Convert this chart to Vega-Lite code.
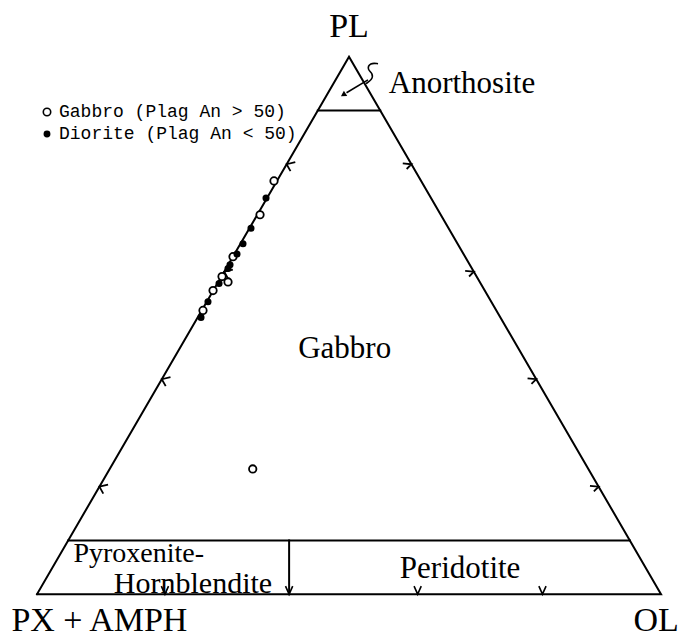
{
  "$schema": "https://vega.github.io/schema/vega-lite/v6.json",
  "width": 679,
  "height": 639,
  "autosize": {"type": "fit", "contains": "padding"},
  "padding": 0,
  "background": "white",
  "config": {"view": {"stroke": null}},
  "datasets": {
    "frame": [
      {"seg": "outline", "i": 0, "x": 0, "y": 0},
      {"seg": "outline", "i": 1, "x": 50, "y": 100},
      {"seg": "outline", "i": 2, "x": 100, "y": 0},
      {"seg": "outline", "i": 3, "x": 0, "y": 0},
      {"seg": "anorthosite", "i": 0, "x": 45, "y": 90},
      {"seg": "anorthosite", "i": 1, "x": 55, "y": 90},
      {"seg": "ultramafic", "i": 0, "x": 5, "y": 10},
      {"seg": "ultramafic", "i": 1, "x": 95, "y": 10},
      {"seg": "divider", "i": 0, "x": 40.4, "y": 10},
      {"seg": "divider", "i": 1, "x": 40.4, "y": 0}
    ],
    "pointer": [
      {"seg": "squiggle", "i": 0, "x": 54.65, "y": 98.7},
      {"seg": "squiggle", "i": 1, "x": 53.37, "y": 98.9},
      {"seg": "squiggle", "i": 2, "x": 52.88, "y": 97.6},
      {"seg": "squiggle", "i": 3, "x": 53.85, "y": 96.9},
      {"seg": "squiggle", "i": 4, "x": 53.69, "y": 95.7},
      {"seg": "squiggle", "i": 5, "x": 52.72, "y": 95.0},
      {"seg": "shaft", "i": 0, "x": 53.04, "y": 95.7},
      {"seg": "shaft", "i": 1, "x": 49.6, "y": 93.3}
    ],
    "arrowTip": [{"x": 49.2, "y": 93.0}],
    "leftTicks": [
      {"x": 10, "y": 20}, {"x": 20, "y": 40}, {"x": 30, "y": 60}, {"x": 40, "y": 80}
    ],
    "rightTicks": [
      {"x": 90, "y": 20}, {"x": 80, "y": 40}, {"x": 70, "y": 60}, {"x": 60, "y": 80}
    ],
    "baseTicks": [
      {"x": 20.5, "y": 0}, {"x": 40.4, "y": 0}, {"x": 61, "y": 0}, {"x": 81, "y": 0}
    ],
    "cornerLabels": [
      {"label": "PL", "x": 50, "y": 103.6},
      {"label": "PX  +  AMPH", "x": 10.0, "y": -6.9},
      {"label": "OL", "x": 99.2, "y": -6.9}
    ],
    "fieldLabels": [
      {"label": "Anorthosite", "x": 68.1, "y": 93.3},
      {"label": "Gabbro", "x": 49.3, "y": 44.0},
      {"label": "Peridotite", "x": 67.8, "y": 3.1}
    ],
    "upperBoxLabel": [
      {"label": "Pyroxenite-", "x": 16.3, "y": 6.0}
    ],
    "lowerBoxLabel": [
      {"label": "Hornblendite", "x": 25.0, "y": 0.15}
    ],
    "samples": [
      {"rock": "Gabbro (Plag An > 50)", "x": 37.98, "y": 76.9},
      {"rock": "Gabbro (Plag An > 50)", "x": 35.74, "y": 70.6},
      {"rock": "Gabbro (Plag An > 50)", "x": 31.41, "y": 62.8},
      {"rock": "Gabbro (Plag An > 50)", "x": 29.65, "y": 59.1},
      {"rock": "Gabbro (Plag An > 50)", "x": 30.61, "y": 58.1},
      {"rock": "Gabbro (Plag An > 50)", "x": 28.21, "y": 56.5},
      {"rock": "Gabbro (Plag An > 50)", "x": 26.6, "y": 52.8},
      {"rock": "Gabbro (Plag An > 50)", "x": 34.57, "y": 23.3},
      {"rock": "Diorite (Plag An < 50)", "x": 36.7, "y": 73.7},
      {"rock": "Diorite (Plag An < 50)", "x": 34.29, "y": 68.1},
      {"rock": "Diorite (Plag An < 50)", "x": 33.01, "y": 65.2},
      {"rock": "Diorite (Plag An < 50)", "x": 32.05, "y": 63.3},
      {"rock": "Diorite (Plag An < 50)", "x": 30.93, "y": 61.3},
      {"rock": "Diorite (Plag An < 50)", "x": 30.61, "y": 60.6},
      {"rock": "Diorite (Plag An < 50)", "x": 29.17, "y": 57.8},
      {"rock": "Diorite (Plag An < 50)", "x": 27.4, "y": 54.4},
      {"rock": "Diorite (Plag An < 50)", "x": 26.28, "y": 51.5}
    ]
  },
  "encoding": {
    "x": {"field": "x", "type": "quantitative", "axis": null,
          "scale": {"domain": [-5.93, 102.88], "nice": false, "zero": false}},
    "y": {"field": "y", "type": "quantitative", "axis": null,
          "scale": {"domain": [-7.78, 110.56], "nice": false, "zero": false}}
  },
  "layer": [
    {
      "data": {"name": "frame"},
      "mark": {"type": "line", "color": "black", "strokeWidth": 2, "strokeCap": "square"},
      "encoding": {"detail": {"field": "seg"}, "order": {"field": "i"}}
    },
    {
      "data": {"name": "pointer"},
      "mark": {"type": "line", "color": "black", "strokeWidth": 1.6, "interpolate": "basis"},
      "encoding": {"detail": {"field": "seg"}, "order": {"field": "i"}}
    },
    {
      "data": {"name": "arrowTip"},
      "mark": {"type": "point", "shape": "triangle", "angle": 238, "size": 40, "filled": true, "color": "black", "opacity": 1}
    },
    {
      "data": {"name": "leftTicks"},
      "mark": {"type": "point", "shape": "M 1 -0.25 L 0 0 L 0.45 0.8", "size": 300, "filled": false, "color": "black", "strokeWidth": 1.8, "opacity": 1}
    },
    {
      "data": {"name": "rightTicks"},
      "mark": {"type": "point", "shape": "M -1 -0.1 L 0 0 L -0.55 0.55", "size": 300, "filled": false, "color": "black", "strokeWidth": 1.8, "opacity": 1}
    },
    {
      "data": {"name": "baseTicks"},
      "mark": {"type": "point", "shape": "M -0.45 -1 L 0 0 L 0.45 -1", "size": 256, "filled": false, "color": "black", "strokeWidth": 1.6, "opacity": 1}
    },
    {
      "data": {"name": "cornerLabels"},
      "mark": {"type": "text", "font": "Liberation Serif", "fontSize": 34, "align": "center", "baseline": "alphabetic", "color": "black"},
      "encoding": {"text": {"field": "label"}}
    },
    {
      "data": {"name": "fieldLabels"},
      "mark": {"type": "text", "font": "Liberation Serif", "fontSize": 31, "align": "center", "baseline": "alphabetic", "color": "black"},
      "encoding": {"text": {"field": "label"}}
    },
    {
      "data": {"name": "upperBoxLabel"},
      "mark": {"type": "text", "font": "Liberation Serif", "fontSize": 28, "align": "center", "baseline": "alphabetic", "color": "black"},
      "encoding": {"text": {"field": "label"}}
    },
    {
      "data": {"name": "lowerBoxLabel"},
      "mark": {"type": "text", "font": "Liberation Serif", "fontSize": 30, "align": "center", "baseline": "alphabetic", "color": "black"},
      "encoding": {"text": {"field": "label"}}
    },
    {
      "data": {"name": "samples"},
      "mark": {"type": "point", "filled": true, "stroke": "black", "strokeWidth": 1.8, "opacity": 1},
      "encoding": {
        "fill": {"field": "rock", "type": "nominal",
                 "scale": {"domain": ["Gabbro (Plag An > 50)", "Diorite (Plag An < 50)"], "range": ["white", "black"]},
                 "legend": {"orient": "none", "legendX": 38, "legendY": 103, "title": null,
                            "labelFont": "Liberation Mono", "labelFontSize": 18, "labelColor": "black", "labelLimit": 0,
                            "symbolStrokeColor": "black", "symbolStrokeWidth": 1.6, "rowPadding": 4, "labelOffset": 3}},
        "size": {"field": "rock", "type": "nominal",
                 "scale": {"domain": ["Gabbro (Plag An > 50)", "Diorite (Plag An < 50)"], "range": [55, 28]}}
      }
    }
  ]
}
